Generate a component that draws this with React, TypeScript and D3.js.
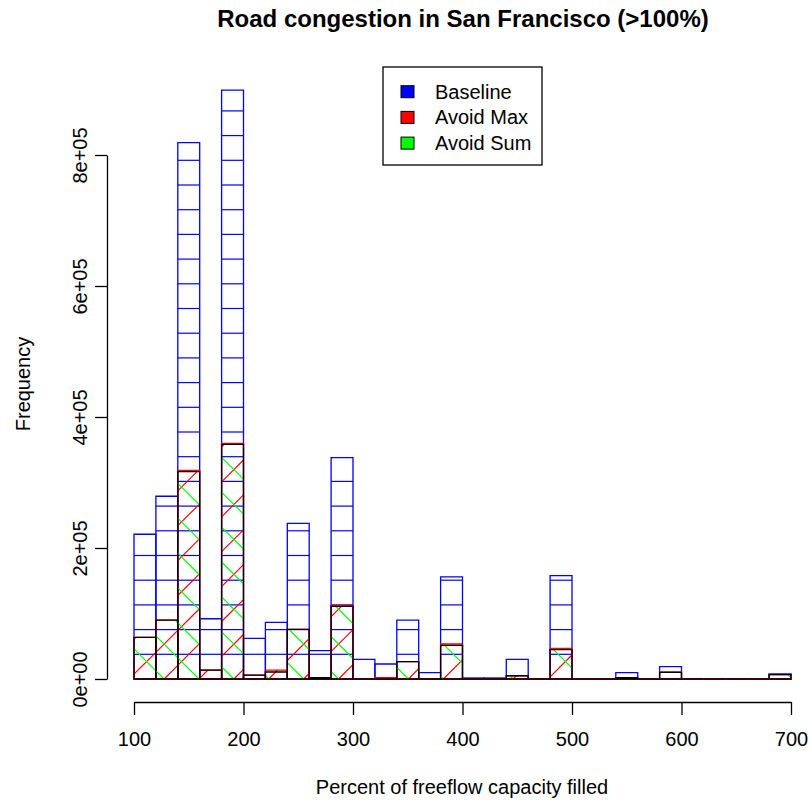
import React, { useEffect, useRef } from "react";
import * as d3 from "d3";

const W = 811;
const H = 802;
const FONT = "'Liberation Sans', Arial, Helvetica, sans-serif";

// histogram bins (lower edges), width 20
const binStarts = [100, 120, 140, 160, 180, 200, 220, 240, 260, 280, 300, 320, 340, 360, 380, 400, 420, 440, 460, 480, 500, 520, 540, 560, 580, 600, 620, 640, 660, 680];
const binWidth = 20;

const baseline = [221000, 279000, 819000, 92000, 899000, 62000, 86500, 237700, 43200, 337900, 30000, 22900, 90000, 9700, 156000, 1500, 1500, 30000, 0, 157700, 0, 0, 9700, 0, 18800, 0, 0, 0, 0, 7600];
const avoidMax = [63600, 90000, 318600, 13700, 359800, 6000, 13700, 75900, 2000, 112500, 0, 2000, 26400, 0, 53400, 0, 0, 5000, 0, 46800, 0, 0, 2000, 0, 11000, 0, 0, 0, 0, 6600];
const avoidSum = [63600, 90000, 316500, 13700, 358300, 6000, 10700, 75900, 2000, 111000, 0, 0, 26400, 0, 51400, 0, 0, 5000, 0, 44800, 0, 0, 2000, 0, 10000, 0, 0, 0, 0, 6600];

const xTicks = [100, 200, 300, 400, 500, 600, 700];
const yTicks = [0, 200000, 400000, 600000, 800000];
const yTickLabels = ["0e+00", "2e+05", "4e+05", "6e+05", "8e+05"];

const legendLabels = ["Baseline", "Avoid Max", "Avoid Sum"];
const legendColors = ["#0000ff", "#ff0000", "#00ff00"];

const seriesList = [
  { values: baseline, hatch: "h", color: "#0000ff", border: "#0000ff" },
  { values: avoidMax, hatch: "d45", color: "#ff0000", border: "#ff0000" },
  { values: avoidSum, hatch: "d135", color: "#00ff00", border: "#000000" },
];

const HATCH_H = 24.7; // px between horizontal hatch lines
const HATCH_D = 34.9; // px horizontal shift between diagonal hatch lines
const LW = 1.3;
const HLW = 1.2;

export default function App() {
  const ref = useRef<SVGSVGElement | null>(null);

  useEffect(() => {
    const svg = d3.select(ref.current);
    svg.selectAll("*").remove();

    const x = d3.scaleLinear().domain([100, 700]).range([134, 791]);
    const y = d3.scaleLinear().domain([0, 800000]).range([679, 155]);
    const base = y(0);
    const X0 = x(0);

    const hatchSegs = (kind: string, x0: number, x1: number, top: number) => {
      const segs: number[][] = [];
      const h = base - top;
      if (h <= 0) return segs;
      if (kind === "h") {
        for (let k = 1; base - k * HATCH_H > top; k++) {
          const yy = base - k * HATCH_H;
          segs.push([x0, yy, x1, yy]);
        }
      } else {
        const kStart = Math.floor((x0 - h - X0) / HATCH_D) - 1;
        const kEnd = Math.ceil((x1 + h - X0) / HATCH_D) + 1;
        for (let k = kStart; k <= kEnd; k++) {
          const Xk = X0 + k * HATCH_D;
          if (kind === "d45") {
            const tmin = Math.max(0, x0 - Xk);
            const tmax = Math.min(h, x1 - Xk);
            if (tmax > tmin) segs.push([Xk + tmin, base - tmin, Xk + tmax, base - tmax]);
          } else {
            const tmin = Math.max(0, Xk - x1);
            const tmax = Math.min(h, Xk - x0);
            if (tmax > tmin) segs.push([Xk - tmin, base - tmin, Xk - tmax, base - tmax]);
          }
        }
      }
      return segs;
    };

    const plot = svg.append("g");
    seriesList.forEach((s) => {
      const g = plot.append("g");
      s.values.forEach((v, i) => {
        const x0 = x(binStarts[i]);
        const x1 = x(binStarts[i] + binWidth);
        const top = y(v);
        const segs = hatchSegs(s.hatch, x0, x1, top);
        g.selectAll(null)
          .data(segs)
          .enter()
          .append("line")
          .attr("x1", (d) => d[0])
          .attr("y1", (d) => d[1])
          .attr("x2", (d) => d[2])
          .attr("y2", (d) => d[3])
          .attr("stroke", s.color)
          .attr("stroke-width", HLW);
        g.append("path")
          .attr("d", `M${x0},${base}H${x1}V${top}H${x0}Z`)
          .attr("fill", "none")
          .attr("stroke", s.border)
          .attr("stroke-width", LW);
      });
    });

    // x axis
    const gx = svg
      .append("g")
      .attr("transform", "translate(0,702)")
      .call(
        d3
          .axisBottom(x)
          .tickValues(xTicks)
          .tickSize(13)
          .tickSizeOuter(0)
          .tickPadding(17)
          .tickFormat(d3.format("d") as any)
      );
    gx.attr("font-size", 20).attr("font-family", FONT);
    gx.selectAll("path, line").attr("stroke", "#000").attr("stroke-width", LW);
    gx.selectAll("text").attr("fill", "#000");

    // y axis
    const gy = svg
      .append("g")
      .attr("transform", "translate(107,0)")
      .call(
        d3
          .axisLeft(y)
          .tickValues(yTicks)
          .tickSize(12)
          .tickSizeOuter(0)
          .tickFormat((d: any, i: number) => yTickLabels[i])
      );
    gy.attr("font-size", 20).attr("font-family", FONT);
    gy.selectAll("path, line").attr("stroke", "#000").attr("stroke-width", LW);
    gy.selectAll("text")
      .attr("fill", "#000")
      .attr("transform", "rotate(-90)")
      .attr("x", 0)
      .attr("y", -20)
      .attr("dy", 0)
      .attr("text-anchor", "middle");

    // titles
    svg
      .append("text")
      .attr("x", 463)
      .attr("y", 27)
      .attr("text-anchor", "middle")
      .attr("font-family", FONT)
      .attr("font-size", 24)
      .attr("font-weight", "bold")
      .text("Road congestion in San Francisco (>100%)");
    svg
      .append("text")
      .attr("x", 462)
      .attr("y", 794)
      .attr("text-anchor", "middle")
      .attr("font-family", FONT)
      .attr("font-size", 20)
      .text("Percent of freeflow capacity filled");
    svg
      .append("text")
      .attr("transform", "translate(30,384) rotate(-90)")
      .attr("text-anchor", "middle")
      .attr("font-family", FONT)
      .attr("font-size", 20)
      .text("Frequency");

    // legend
    const lg = svg.append("g");
    lg.append("rect")
      .attr("x", 383)
      .attr("y", 67)
      .attr("width", 159)
      .attr("height", 98)
      .attr("fill", "#fff")
      .attr("stroke", "#000")
      .attr("stroke-width", LW);
    legendLabels.forEach((lab, i) => {
      const cy = 91.7 + i * 25.7;
      lg.append("rect")
        .attr("x", 401)
        .attr("y", cy - 6)
        .attr("width", 13)
        .attr("height", 12)
        .attr("fill", legendColors[i])
        .attr("stroke", "#000")
        .attr("stroke-width", 1);
      lg.append("text")
        .attr("x", 435)
        .attr("y", cy + 7)
        .attr("font-family", FONT)
        .attr("font-size", 20)
        .text(lab);
    });
  }, []);

  return (
    <svg
      ref={ref}
      width={W}
      height={H}
      style={{ position: "absolute", left: 0, top: 0, background: "#fff" }}
    />
  );
}
